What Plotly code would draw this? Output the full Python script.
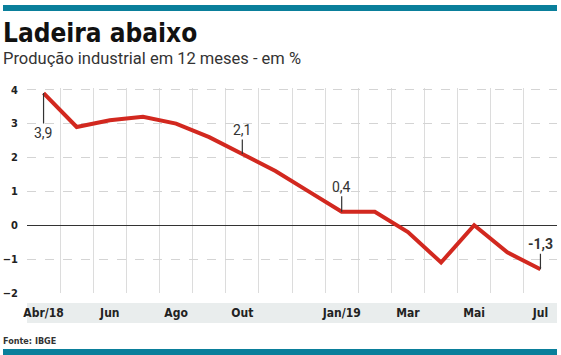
import plotly.graph_objects as go

months = ["Abr/18", "Mai", "Jun", "Jul", "Ago", "Set", "Out", "Nov", "Dez",
          "Jan/19", "Fev", "Mar", "Abr", "Mai", "Jun", "Jul"]
values = [3.9, 2.9, 3.1, 3.2, 3.0, 2.6, 2.1, 1.6, 1.0, 0.4, 0.4, -0.2, -1.1, 0.0, -0.8, -1.3]
tick_idx = [0, 2, 4, 6, 9, 11, 13, 15]
tick_labels = ["Abr/18", "Jun", "Ago", "Out", "Jan/19", "Mar", "Mai", "Jul"]
callouts = [(0, "3,9", 40, False), (6, "2,1", -24, False), (9, "0,4", -25, False), (15, "-1,3", -25, True)]

x = list(range(len(months)))
COND = "DejaVu Sans Condensed"
PH = 205.0  # plot height in px
PW = 530.0

fig = go.Figure()
fig.add_trace(go.Scatter(x=x, y=values, mode="lines",
                         line=dict(color="#d2281f", width=4), hoverinfo="skip"))

for i, txt, ay, bold in callouts:
    fig.add_annotation(x=i, y=values[i], text=f"<b>{txt}</b>" if bold else txt,
                       showarrow=True, arrowhead=0, arrowwidth=1.2, arrowcolor="#333",
                       ax=0, ay=ay, font=dict(family="Roboto", size=14, color="#333"))

W, H = 561, 355
fig.update_layout(
    width=W, height=H, margin=dict(l=27, r=4, t=88, b=62, autoexpand=False),
    paper_bgcolor="white", plot_bgcolor="white", showlegend=False,
    xaxis=dict(range=[-0.5, 15.5], tickvals=tick_idx, ticktext=tick_labels,
               showgrid=False, zeroline=False, ticks="", ticklabelstandoff=11,
               automargin=False,
               tickfont=dict(family=COND, size=12, color="#222", weight="bold"),
               minor=dict(tick0=-0.5, dtick=1, showgrid=True, gridcolor="#dcdcdc", gridwidth=1)),
    yaxis=dict(range=[-2, 4.05], tickvals=[-2, -1, 0, 1, 2, 3, 4],
               showgrid=True, gridcolor="#d4d4d4", griddash="dash", gridwidth=1,
               zeroline=True, zerolinecolor="#333", zerolinewidth=1.3,
               ticks="", ticklabelstandoff=8, automargin=False,
               tickfont=dict(family=COND, size=11, color="#222", weight="bold")),
    shapes=[
        dict(type="rect", xref="paper", yref="paper", layer="below",
             x0=0, x1=1, y0=-(303 - 293) / PH, y1=-(323 - 293) / PH,
             fillcolor="#e9eded", line=dict(width=0)),
        dict(type="rect", xref="paper", yref="paper", x0=-24 / PW, x1=1,
             y0=(293 - 5) / PH, y1=(293 - 11) / PH,
             fillcolor="#0a7f9b", line=dict(width=0)),
        dict(type="rect", xref="paper", yref="paper", x0=-24 / PW, x1=1,
             y0=-(349 - 293) / PH, y1=-(355 - 293) / PH,
             fillcolor="#0a7f9b", line=dict(width=0)),
    ],
)

fig.add_annotation(xref="paper", yref="paper", x=-26 / PW, y=(293 - 16) / PH,
                   xanchor="left", yanchor="top", showarrow=False,
                   text="<b>Ladeira abaixo</b>",
                   font=dict(family=COND, size=26, color="#111", weight=900))
fig.add_annotation(xref="paper", yref="paper", x=-26 / PW, y=(293 - 47) / PH,
                   xanchor="left", yanchor="top", showarrow=False,
                   text="Produção industrial em 12 meses - em %",
                   font=dict(family="Roboto", size=16.5, color="#333"))
fig.add_annotation(xref="paper", yref="paper", x=-26 / PW, y=-(334 - 293) / PH,
                   xanchor="left", yanchor="top", showarrow=False,
                   text="<b>Fonte: IBGE</b>",
                   font=dict(family=COND, size=9, color="#333"))

fig.write_html("out.html", config={"displayModeBar": False},
               post_script="document.body.style.margin='0px';document.body.style.overflow='hidden';")
